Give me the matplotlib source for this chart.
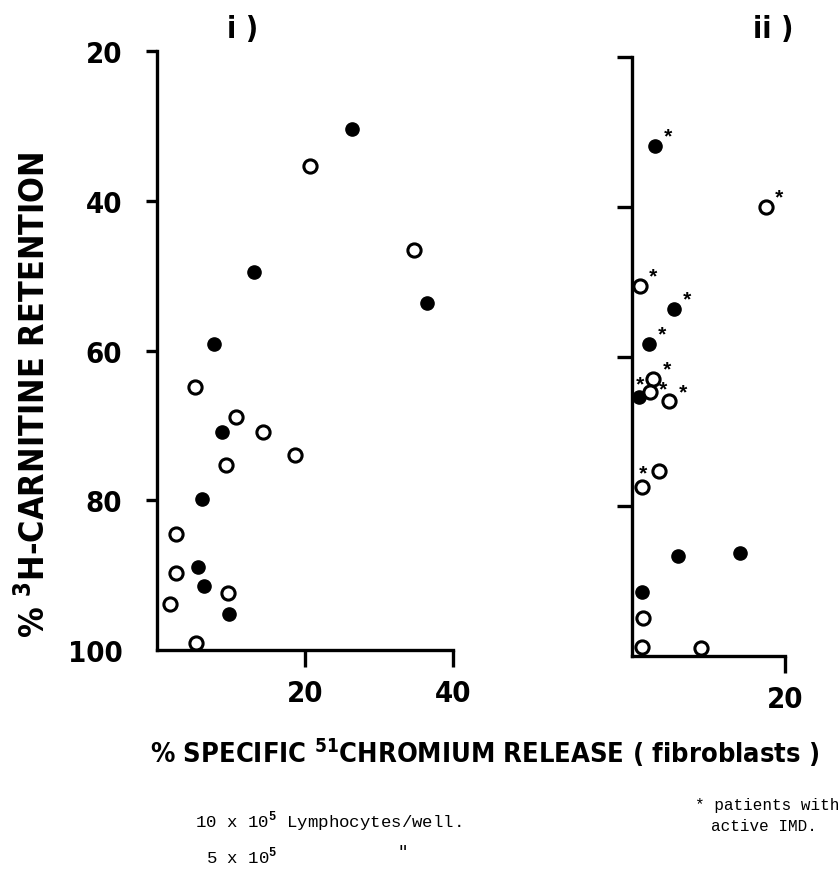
import matplotlib
matplotlib.use("Agg")
import matplotlib.pyplot as plt

# ---------------- data ----------------
# Panel i
p1_filled_x = [26.3, 13.1, 36.5, 7.7, 8.8, 6.1, 5.5, 6.4, 9.7]
p1_filled_y = [30.4, 49.5, 53.6, 59.1, 70.9, 79.8, 88.9, 91.4, 95.2]
p1_open_x = [20.7, 34.7, 5.2, 10.7, 14.3, 18.7, 9.3, 2.5, 2.5, 9.6, 1.7, 5.3]
p1_open_y = [35.3, 46.6, 64.9, 68.9, 70.9, 74.0, 75.3, 84.5, 89.7, 92.4, 93.9, 99.0]

# Panel ii  (star = patient with active IMD)
p2_filled_x = [3.0, 5.5, 2.2, 0.9, 6.0, 14.1, 1.3]
p2_filled_y = [31.9, 53.7, 58.3, 65.4, 86.6, 86.2, 91.4]
p2_filled_star = [True, True, True, True, False, False, False]
p2_open_x = [17.5, 1.0, 2.8, 2.3, 4.9, 3.5, 1.3, 1.4, 1.3, 9.0]
p2_open_y = [40.0, 50.6, 63.0, 64.8, 66.0, 75.3, 77.4, 94.9, 98.8, 98.9]
p2_open_star = [True, True, True, True, True, False, True, False, False, False]

y_ticks = [20, 40, 60, 80, 100]
y_ticklabels = ["20", "40", "60", "80", "100"]
p1_xticks = [20, 40]
p1_xticklabels = ["20", "40"]
p2_xticks = [20]
p2_xticklabels = ["20"]

title_i = "i )"
title_ii = "ii )"
ylabel = r"% $^{3}$H-CARNITINE RETENTION"
xlabel = r"% SPECIFIC $^{51}$CHROMIUM RELEASE ( fibroblasts )"
legend_line1 = r"10 x 10$^{\mathtt{5}}$ Lymphocytes/well."
legend_line2 = r"5 x 10$^{\mathtt{5}}$"
legend_ditto = "\u2033"
note_line1 = "* patients with"
note_line2 = "active IMD."

# ---------------- style ----------------
MONO = ["Liberation Mono", "DejaVu Sans Mono"]
plt.rcParams["font.family"] = ["DejaVu Sans"]
plt.rcParams["font.stretch"] = "condensed"
plt.rcParams["font.weight"] = "bold"
plt.rcParams["mathtext.fontset"] = "custom"
plt.rcParams["mathtext.rm"] = "DejaVu Sans:weight=bold:stretch=condensed"
plt.rcParams["mathtext.it"] = "DejaVu Sans:weight=bold:stretch=condensed"
plt.rcParams["mathtext.bf"] = "DejaVu Sans:weight=bold:stretch=condensed"
plt.rcParams["mathtext.tt"] = "Liberation Mono"
plt.rcParams["mathtext.default"] = "rm"

W, H = 839, 870
fig = plt.figure(figsize=(W / 100, H / 100), dpi=100)


def fx(px):
    return px / W


def fy(py):
    return 1 - py / H


ax1 = fig.add_axes([fx(157), fy(651), fx(453) - fx(157), fy(52) - fy(651)])
ax2 = fig.add_axes([fx(632), fy(657), fx(785) - fx(632), fy(58) - fy(657)])

LW = 2.4
for ax in (ax1, ax2):
    for s in ("top", "right"):
        ax.spines[s].set_visible(False)
    for s in ("left", "bottom"):
        ax.spines[s].set_linewidth(LW)
        ax.spines[s].set_capstyle("projecting")
    ax.set_ylim(100, 20)
    ax.set_yticks(y_ticks)
    ax.tick_params(axis="y", direction="out", length=8, width=LW, pad=17,
                   labelsize=21)
    ax.tick_params(axis="x", direction="out", length=12, width=LW, pad=9,
                   labelsize=21)
    ax.patch.set_alpha(0)

ax1.set_xlim(0, 40)
ax1.set_xticks(p1_xticks)
ax1.set_xticklabels(p1_xticklabels)
ax1.set_yticklabels(y_ticklabels)
ax1.yaxis.get_major_ticks()[-1].tick1line.set_visible(False)

ax2.set_xlim(0, 20)
ax2.set_xticks(p2_xticks)
ax2.set_xticklabels(p2_xticklabels)
ax2.set_yticklabels([])
ax2.tick_params(axis="y", length=11)
ax2.yaxis.get_major_ticks()[-1].tick1line.set_visible(False)

MS = 9.5
ax1.plot(p1_filled_x, p1_filled_y, "o", ms=MS, color="black", clip_on=False)
ax1.plot(p1_open_x, p1_open_y, "o", ms=MS, mfc="white", mec="black", mew=2.2,
         clip_on=False)
ax2.plot(p2_filled_x, p2_filled_y, "o", ms=MS, color="black", clip_on=False,
         zorder=3)
ax2.plot(p2_open_x, p2_open_y, "o", ms=MS, mfc="white", mec="black", mew=2.2,
         clip_on=False, zorder=3)

# asterisk placement (points): default upper-right, a few placed otherwise
STAR_RIGHT = (9.5, 6.5)
STAR_SIDE = (9.5, 2.0)
STAR_ABOVE = (1.0, 9.0)
star_place_filled = {3: STAR_ABOVE}
star_place_open = {3: STAR_SIDE, 6: STAR_ABOVE}

for xs, ys, flags, place in ((p2_filled_x, p2_filled_y, p2_filled_star, star_place_filled),
                             (p2_open_x, p2_open_y, p2_open_star, star_place_open)):
    for i, (x, y, f) in enumerate(zip(xs, ys, flags)):
        if f:
            off = place.get(i, STAR_RIGHT)
            ax2.annotate("*", (x, y), xytext=off, textcoords="offset points",
                         fontsize=15, fontweight="bold", family=MONO,
                         ha="center", va="center", annotation_clip=False,
                         zorder=4)

fig.text(fx(243), fy(30), title_i, fontsize=22, ha="center", va="center")
fig.text(fx(773), fy(30), title_ii, fontsize=22, ha="center", va="center")

fig.text(fx(34), fy(395), ylabel, fontsize=24.5, rotation=90,
         ha="center", va="center")
fig.text(fx(485), fy(753), xlabel, fontsize=19.5, ha="center", va="center")

fig.text(fx(195), fy(822), legend_line1, fontsize=12.5, family=MONO,
         fontweight="normal", fontstretch="normal", ha="left", va="center")
fig.text(fx(206), fy(856), legend_line2, fontsize=12.5, family=MONO,
         fontweight="normal", fontstretch="normal", ha="left", va="center")
fig.text(fx(397), fy(853), legend_ditto, fontsize=12.5, family=MONO,
         fontweight="normal", fontstretch="normal", ha="left", va="center")
fig.text(fx(695), fy(806), note_line1, fontsize=11.5, family=MONO,
         fontweight="normal", fontstretch="normal", ha="left", va="center")
fig.text(fx(711), fy(827), note_line2, fontsize=11.5, family=MONO,
         fontweight="normal", fontstretch="normal", ha="left", va="center")

fig.savefig("out.png", dpi=100, facecolor="white")
